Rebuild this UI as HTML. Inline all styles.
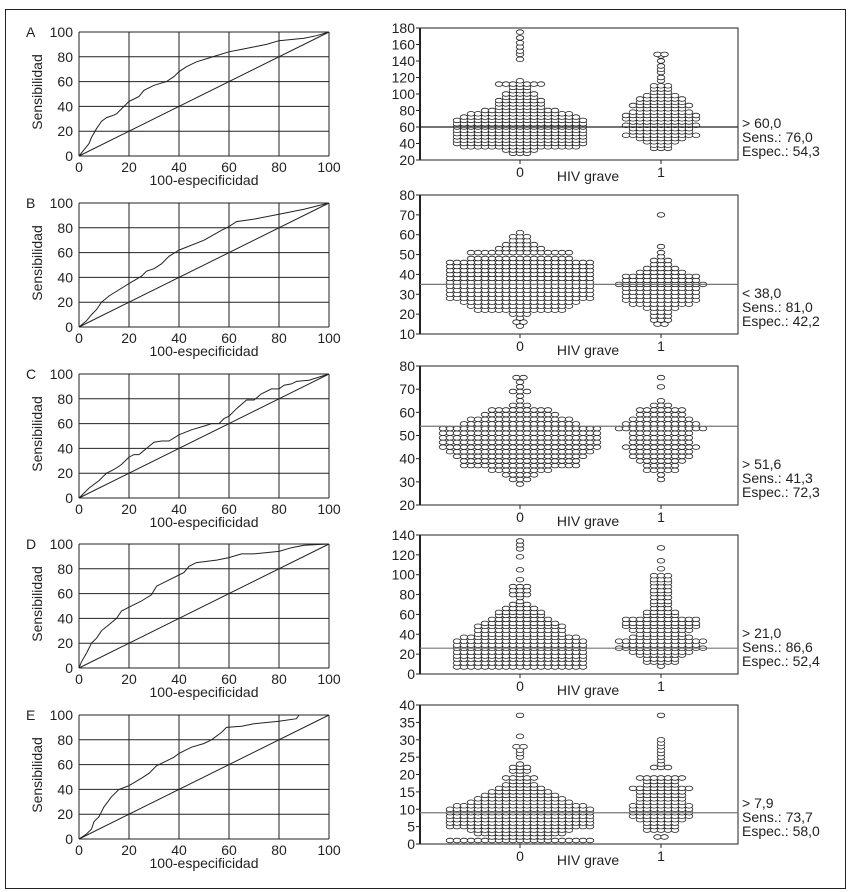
<!DOCTYPE html>
<html><head><meta charset="utf-8">
<style>
html,body{margin:0;padding:0;background:#fff}
svg{display:block}
text{font-family:"Liberation Sans",Arial,sans-serif;fill:#222}
</style></head>
<body>
<svg id="fig" width="850" height="892" viewBox="0 0 850 892" xmlns="http://www.w3.org/2000/svg">
<rect x="5.5" y="9.5" width="840" height="879" fill="none" stroke="#222" stroke-width="1"/>
</svg>
<script>
// ---- ROC curve data (x = 100-especificidad, y = sensibilidad) ----
const rocA_x=[0,2,4,5,7,9,11,14,15,18,20,22,24,26,30,35,38,40,43,47,52,55,60,65,70,75,80,90,95,100];
const rocA_y=[0,5,10,15,22,28,31,33,34,40,44,46,48,53,57,60,64,68,72,76,79,81,84,86,88,90,93,95,97,100];
const rocB_x=[0,3,5,7,9,12,20,25,27,30,33,36,40,50,57,60,63,70,80,90,100];
const rocB_y=[0,5,10,14,20,25,35,41,45,47,51,57,62,70,78,81,85,87,91,95,100];
const rocC_x=[0,4,8,11,14,17,20,22,24,27,30,33,36,40,45,50,53,56,58,60,63,67,70,73,77,80,82,85,87,92,100];
const rocC_y=[0,8,14,20,23,27,33,35,35,40,45,46,46,51,55,58,60,60,64,66,72,79,79,84,88,88,91,92,94,95,100];
const rocD_x=[0,1,3,5,7,9,12,15,17,20,25,29,31,35,40,42,44,47,55,60,65,70,80,85,90,100];
const rocD_y=[0,5,12,20,24,30,35,40,46,49,54,59,66,70,75,77,82,85,87,89,92,92,94,97,99,100];
const rocE_x=[0,3,5,6,8,10,13,16,20,25,28,31,35,38,40,45,50,53,57,59,65,70,80,87,88,100];
const rocE_y=[0,4,8,14,18,26,34,40,43,49,53,59,63,66,69,74,77,80,86,90,91,93,95,97,100,100];
const rocTicks=[0,20,40,60,80,100];

// ---- Dot plot data: [value, number of dots in the row] ----
const dotA0=[[28,3],[32,5],[36,17],[40,19],[44,19],[48,19],[52,19],[56,19],[60,19],[64,19],[68,19],[72,17],[76,15],[80,11],[84,7],[88,7],[92,7],[96,5],[100,5],[104,3],[108,3],[112,7],[116,1],[142,1],[148,1],[152,1],[157,1],[162,1],[168,1],[175,1]];
const dotA1=[[34,3],[38,3],[42,5],[46,7],[50,11],[54,9],[58,9],[62,11],[66,9],[70,11],[74,11],[78,9],[82,7],[86,9],[90,7],[94,7],[98,5],[102,3],[106,3],[110,3],[116,1],[120,1],[126,1],[130,1],[134,1],[140,1],[146,1],[148,2]];
const dotB0=[[14,1],[16,2],[18,1],[20,3],[22,13],[24,15],[26,17],[28,21],[30,21],[32,21],[34,21],[36,21],[38,21],[40,21],[42,21],[44,21],[46,21],[48,15],[51,15],[53,7],[55,5],[57,3],[59,3],[61,1]];
const dotB1=[[15,2],[17,3],[19,3],[21,3],[23,5],[25,9],[27,11],[29,11],[31,11],[33,11],[35,13],[37,11],[39,11],[41,7],[43,5],[45,3],[47,3],[49,1],[51,1],[54,1],[70,1]];
const dotC0=[[29,1],[31,3],[33,5],[35,9],[37,17],[39,17],[41,19],[43,21],[45,23],[47,23],[49,23],[51,23],[53,23],[55,17],[57,15],[59,11],[61,9],[63,3],[65,1],[67,1],[69,3],[71,1],[73,1],[75,2]];
const dotC1=[[31,1],[33,1],[35,5],[37,5],[39,7],[41,9],[43,9],[45,11],[47,9],[49,9],[51,9],[53,13],[55,11],[57,9],[59,7],[61,7],[63,3],[65,1],[71,1],[75,1]];
const dotD0=[[7,19],[11,19],[15,19],[18,19],[22,19],[26,19],[29,19],[33,19],[37,17],[40,13],[44,13],[48,13],[51,11],[55,9],[59,7],[62,7],[66,5],[70,3],[73,1],[77,1],[80,3],[84,3],[88,3],[95,1],[105,1],[118,1],[126,1],[130,1],[134,1]];
const dotD1=[[8,1],[12,5],[15,5],[19,7],[22,9],[26,13],[29,11],[33,13],[37,9],[40,7],[44,9],[48,11],[51,11],[55,11],[59,5],[62,5],[66,3],[70,3],[73,3],[77,3],[81,3],[84,3],[88,3],[92,3],[95,3],[99,3],[106,1],[114,1],[127,1]];
const dotE0=[[1,21],[2,9],[3,13],[4,15],[5,21],[6,21],[7,21],[8,21],[9,21],[10,21],[11,19],[12,15],[13,13],[14,11],[15,9],[16,7],[17,5],[18,3],[19,5],[20,1],[21,3],[22,3],[23,1],[25,1],[26,1],[27,1],[28,2],[31,1],[37,1]];
const dotE1=[[2,2],[4,5],[5,5],[6,5],[7,7],[8,9],[9,9],[10,9],[11,9],[12,7],[13,7],[14,7],[15,7],[16,9],[17,5],[18,5],[19,7],[22,3],[23,1],[24,1],[25,1],[26,1],[27,1],[28,1],[29,1],[30,1],[37,1]];
const ticksA=[20,40,60,80,100,120,140,160,180];
const ticksB=[10,20,30,40,50,60,70,80];
const ticksC=[20,30,40,50,60,70,80];
const ticksD=[0,20,40,60,80,100,120,140];
const ticksE=[0,5,10,15,20,25,30,35,40];
const cutoffs=[60,35,54,26,9];
const notes=[["> 60,0","Sens.: 76,0","Espec.: 54,3"],["< 38,0","Sens.: 81,0","Espec.: 42,2"],["> 51,6","Sens.: 41,3","Espec.: 72,3"],["> 21,0","Sens.: 86,6","Espec.: 52,4"],["> 7,9","Sens.: 73,7","Espec.: 58,0"]];
const letters=["A","B","C","D","E"];

const NS="http://www.w3.org/2000/svg";
const svg=document.getElementById('fig');
function mk(tag,attrs,parent){const e=document.createElementNS(NS,tag);for(const k in attrs)e.setAttribute(k,attrs[k]);(parent||svg).appendChild(e);return e;}

const FS=14;
const rocTops=[32,203,374,544,715];
const rocData=[[rocA_x,rocA_y],[rocB_x,rocB_y],[rocC_x,rocC_y],[rocD_x,rocD_y],[rocE_x,rocE_y]];
const dotData=[[dotA0,dotA1],[dotB0,dotB1],[dotC0,dotC1],[dotD0,dotD1],[dotE0,dotE1]];
const dotTicks=[ticksA,ticksB,ticksC,ticksD,ticksE];
const dotBox=[[28,160],[195,334],[366,505],[535,674],[705,844]];

for(let p=0;p<5;p++){
  const g=mk('g',{});
  
  
  const L=79,R=329,T=rocTops[p],B=T+124;
  const sx=v=>L+(R-L)*v/100, sy=v=>B-(B-T)*v/100;
  for(const t of rocTicks){
    const gx=mk('line',{x1:sx(t),x2:sx(t),y1:T,y2:B,stroke:'#222','stroke-width':1},g);
    
    
    const gy=mk('line',{x1:L,x2:R,y1:sy(t),y2:sy(t),stroke:'#222','stroke-width':1},g);
    
    
    const tx=mk('text',{x:sx(t),y:B+16,'text-anchor':'middle','font-size':FS},g);tx.textContent=t;
    
    
    const ty=mk('text',{x:L-6,y:sy(t)+5,'text-anchor':'end','font-size':FS},g);ty.textContent=t;
    
    
  }
  const diag=mk('line',{x1:sx(0),y1:sy(0),x2:sx(100),y2:sy(100),stroke:'#222','stroke-width':1},g);
  
  
  const [xs,ys]=rocData[p];
  let d='';
  for(let i=0;i<xs.length;i++){d+=(i?'L':'M')+sx(xs[i]).toFixed(1)+','+sy(ys[i]).toFixed(1);}
  const curve=mk('path',{d:d,fill:'none',stroke:'#222','stroke-width':1},g);
  
  
  const lt=mk('text',{x:26,y:T+5,'font-size':14},g);lt.textContent=letters[p];
  
  
  const yl=mk('text',{x:0,y:0,'text-anchor':'middle','font-size':FS,transform:`translate(42,${T+60}) rotate(-90)`},g);yl.textContent='Sensibilidad';
  
  
  const xl=mk('text',{x:(L+R)/2,y:B+29,'text-anchor':'middle','font-size':FS},g);xl.textContent='100-especificidad';
  
  

  const h=mk('g',{});
  
  
  const DL=420,DR=738,[DT,DB]=dotBox[p];
  const tk=dotTicks[p];const vmin=tk[0],vmax=tk[tk.length-1];
  const dy=v=>DB-(DB-DT)*(v-vmin)/(vmax-vmin);
  const frame=mk('rect',{x:DL,y:DT,width:DR-DL,height:DB-DT,fill:'none',stroke:'#222','stroke-width':1},h);
  
  
  mk('line',{x1:DL,x2:DL,y1:DT,y2:DB,stroke:'#222','stroke-width':2},h);
  for(const t of tk){
    mk('line',{x1:DL-4,x2:DL,y1:dy(t),y2:dy(t),stroke:'#222','stroke-width':1},h);
    const tl=mk('text',{x:DL-5,y:dy(t)+5,'text-anchor':'end','font-size':FS},h);tl.textContent=t;
    
    
  }
  const cx=[520,661];
  for(let gi=0;gi<2;gi++){
    mk('line',{x1:cx[gi],x2:cx[gi],y1:DB,y2:DB+4,stroke:'#222'},h);
    const cl=mk('text',{x:cx[gi],y:DB+17,'text-anchor':'middle','font-size':FS},h);cl.textContent=gi;
    
    
    for(const [v,n] of dotData[p][gi]){
      for(let k=0;k<n;k++){
        const ex=cx[gi]+(k-(n-1)/2)*7;
        const el=mk('ellipse',{cx:ex.toFixed(1),cy:dy(v).toFixed(1),rx:3.8,ry:2.3,fill:'#fff',stroke:'#222','stroke-width':0.8},h);
        
        
      }
    }
  }
  const cut=mk('line',{x1:DL,x2:DR,y1:dy(cutoffs[p]),y2:dy(cutoffs[p]),stroke:p===0?'#222':'#777','stroke-width':1.2},h);
  
  
  const hx=mk('text',{x:588,y:DB+21,'text-anchor':'middle','font-size':FS},h);hx.textContent='HIV grave';
  
  
  const nt=[128,142,156].map(v=>v+(DB-160));
  for(let i=0;i<3;i++){
    const t=mk('text',{x:742,y:nt[i]-(p===0?0:4),'font-size':FS},h);t.textContent=notes[p][i];
    
    
  }
}
</script>
</body></html>
